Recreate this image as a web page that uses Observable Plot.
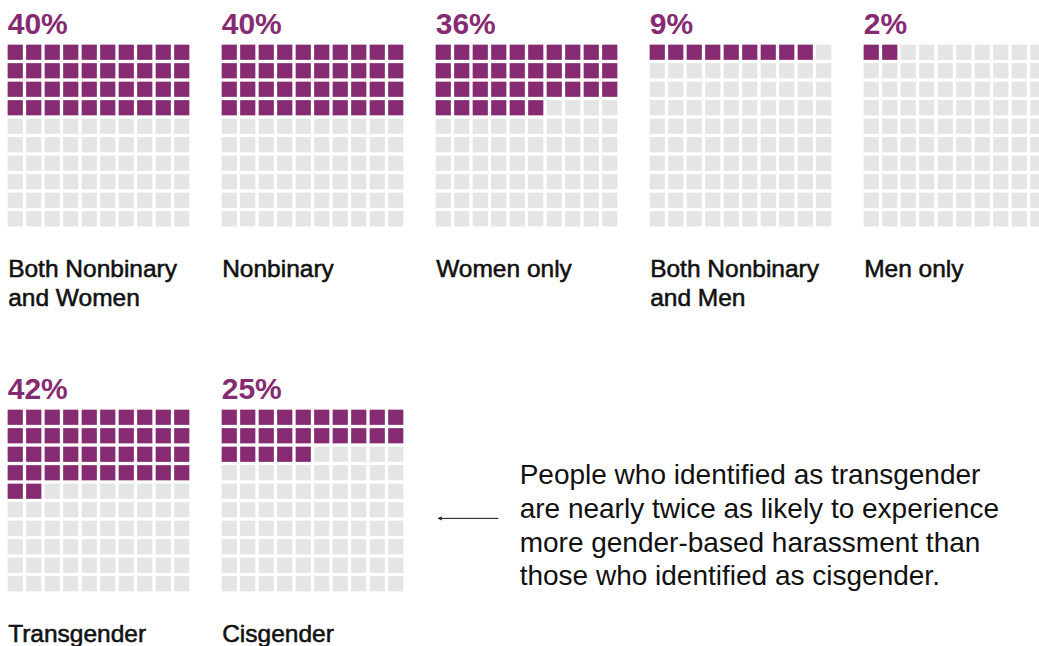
<!DOCTYPE html>
<html>
<head>
<meta charset="utf-8">
<script src="https://cdn.jsdelivr.net/npm/d3@7"></script>
<script src="https://cdn.jsdelivr.net/npm/@observablehq/plot@0.6"></script>
<style>
  html, body { margin: 0; padding: 0; background: #fff; overflow: hidden; }
  #chart svg { max-width: none !important; display: block; }
</style>
</head>
<body>
<div id="chart"></div>
<script>
// ---- data ----
const categories = [
  "Both Nonbinary\nand Women",
  "Nonbinary",
  "Women only",
  "Both Nonbinary\nand Men",
  "Men only",
  "Transgender",
  "Cisgender"
];
const percents = [40, 40, 36, 9, 2, 42, 25];
const panelCol = [0, 1, 2, 3, 4, 0, 1];
const panelRow = [0, 0, 0, 0, 0, 1, 1];
const noteText = "People who identified as transgender\nare nearly twice as likely to experience\nmore gender-based harassment than\nthose who identified as cisgender.";
const noteFacet = {col: 2, row: 1};

// ---- build tables ----
const panels = categories.map((c, i) => ({label: c, value: percents[i], col: panelCol[i], row: panelRow[i]}));
const cells = [];
panels.forEach(p => {
  for (let k = 0; k < 100; k++) {
    cells.push({col: p.col, row: p.row, cx: k % 10, cy: Math.floor(k / 10), filled: k < p.value});
  }
});
const note = [{col: noteFacet.col, row: noteFacet.row, text: noteText, ax1: 3.43, ax2: 0.22, ay: 5.94}];

const purple = "#862B72";
const grey = "#E5E5E5";
const font = "'Helvetica Neue', Helvetica, Arial, 'Liberation Sans', sans-serif";

const chart = Plot.plot({
  width: 1048,
  height: 646,
  marginLeft: 5.35,
  marginRight: 0.65,
  marginTop: 43.35,
  marginBottom: 52.65,
  style: {fontFamily: font, background: "#fff", maxWidth: "none"},
  fx: {domain: [0, 1, 2, 3, 4], paddingInner: 0.1365, paddingOuter: 0, axis: null},
  fy: {domain: [0, 1], paddingInner: 0.4932, paddingOuter: 0, axis: null},
  x: {domain: [0, 10], axis: null},
  y: {domain: [0, 10], reverse: true, axis: null},
  marks: [
    Plot.rect(cells, {
      fx: "col", fy: "row",
      x1: "cx", x2: d => d.cx + 1,
      y1: "cy", y2: d => d.cy + 1,
      inset: 1.65,
      fill: d => d.filled ? purple : grey
    }),
    Plot.text(panels, {
      fx: "col", fy: "row",
      frameAnchor: "top-left",
      text: d => d.value + "%",
      textAnchor: "start",
      lineAnchor: "bottom",
      dx: 1.2, dy: -10,
      fontSize: 30, fontWeight: "bold",
      fill: purple
    }),
    Plot.text(panels, {
      fx: "col", fy: "row",
      frameAnchor: "bottom-left",
      text: "label",
      textAnchor: "start",
      lineAnchor: "top",
      lineHeight: 1.16,
      dx: 1.65, dy: 28.5,
      fontSize: 24.5, fontWeight: "normal",
      fill: "#111", stroke: "#111", strokeWidth: 0.55
    }),
    Plot.arrow(note, {
      fx: "col", fy: "row",
      x1: "ax1", x2: "ax2", y1: "ay", y2: "ay",
      stroke: "#111", strokeWidth: 1,
      headLength: 5, headAngle: 50, bend: 0
    }),
    Plot.text(note, {
      fx: "col", fy: "row",
      x: "ax1", y: "ay",
      text: "text",
      textAnchor: "start",
      lineAnchor: "middle",
      lineHeight: 1.2,
      dx: 21.7, dy: 5.6,
      fontSize: 28, fontWeight: "normal",
      fill: "#111"
    })
  ]
});
document.getElementById("chart").append(chart);
</script>
</body>
</html>
